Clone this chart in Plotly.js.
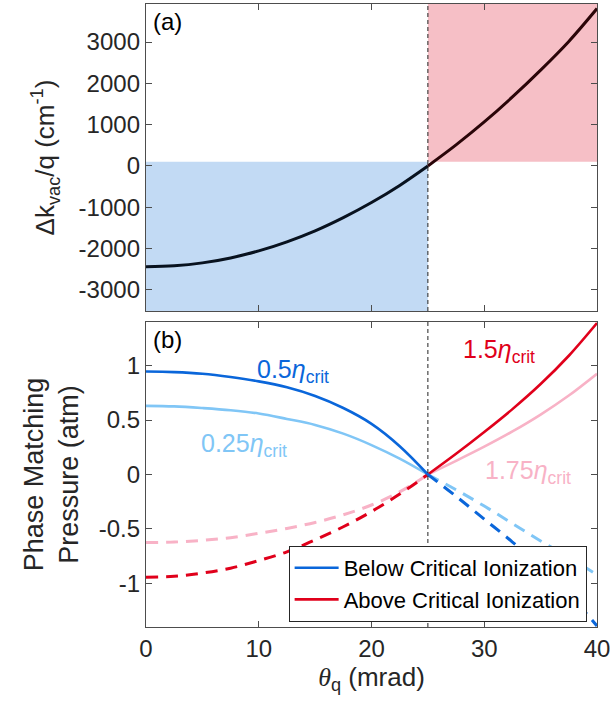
<!DOCTYPE html>
<html>
<head>
<meta charset="utf-8">
<script src="https://cdn.plot.ly/plotly-3.0.1.min.js"></script>
<style>html,body{margin:0;padding:0;background:#fff;}#chart{width:610px;height:709px;}</style>
</head>
<body>
<div id="chart"></div>
<script>
// ---- data ----
const theta = [0, 2.5, 5, 7.5, 10, 12.5, 15, 17.5, 20, 22.5, 25, 27.5, 30, 32.5, 35, 37.5, 40];
const dkVac = [-2440, -2415, -2345, -2225, -2055, -1835, -1570, -1250, -885, -470, 0, 510, 1065, 1670, 2320, 3015, 3810];
const p050 = [0.945, 0.94, 0.925, 0.895, 0.855, 0.80, 0.72, 0.61, 0.465, 0.26, 0, -0.20, -0.41, -0.62, -0.85, -1.10, -1.39];
const p025 = [0.63, 0.625, 0.61, 0.59, 0.56, 0.51, 0.455, 0.375, 0.27, 0.145, 0, -0.14, -0.29, -0.45, -0.61, -0.76, -0.92];
const p150 = [-0.943, -0.935, -0.905, -0.86, -0.79, -0.71, -0.60, -0.48, -0.34, -0.18, 0, 0.19, 0.39, 0.60, 0.83, 1.09, 1.39];
const p175 = [-0.625, -0.62, -0.605, -0.58, -0.54, -0.495, -0.44, -0.37, -0.28, -0.16, 0, 0.125, 0.255, 0.395, 0.55, 0.725, 0.925];
const critAngle = 25;
const shadeLevel = 100;
const xTicks = [0, 10, 20, 30, 40];
const yTicksA = [-3000, -2000, -1000, 0, 1000, 2000, 3000];
const yTicksB = [-1, -0.5, 0, 0.5, 1];
const legendNames = ['Below Critical Ionization', 'Above Critical Ionization'];

// ---- styling ----
const FONT = 'Liberation Sans, Arial, Helvetica, sans-serif';
const cBlue = '#0a66da', cLight = '#80c6f6', cRed = '#e0001b', cPink = '#f8b2c6';
const ci = theta.indexOf(critAngle);
const left = a => a.slice(0, ci + 1);
const right = a => a.slice(ci);
const dashPat = '12px,8px';

const traces = [];
// panel (a)
traces.push({x: left(theta), y: left(dkVac), xaxis: 'x', yaxis: 'y', mode: 'lines', line: {color: '#08121f', width: 3, shape: 'spline'}, showlegend: false, hoverinfo: 'skip'});
traces.push({x: right(theta), y: right(dkVac), xaxis: 'x', yaxis: 'y', mode: 'lines', line: {color: '#2a0508', width: 3, shape: 'spline'}, showlegend: false, hoverinfo: 'skip'});

// panel (b)
function addSeries(vals, color, belowCrit, legendName, rank) {
  const solidX = belowCrit ? left(theta) : right(theta);
  const solidY = belowCrit ? left(vals) : right(vals);
  const dashX = belowCrit ? right(theta) : left(theta);
  const dashY = belowCrit ? right(vals) : left(vals);
  traces.push({x: dashX, y: dashY, xaxis: 'x2', yaxis: 'y2', mode: 'lines', line: {color: color, width: 3, dash: dashPat, shape: 'spline'}, showlegend: false, hoverinfo: 'skip'});
  const t = {x: solidX, y: solidY, xaxis: 'x2', yaxis: 'y2', mode: 'lines', line: {color: color, width: 2.6, shape: 'spline'}, name: legendName || '', showlegend: !!legendName, hoverinfo: 'skip'};
  if (rank) t.legendrank = rank;
  traces.push(t);
}
addSeries(p175, cPink, false);
addSeries(p025, cLight, true);
addSeries(p150, cRed, false, legendNames[1], 2);
addSeries(p050, cBlue, true, legendNames[0], 1);

const axLine = '#4d4d4d';
const tickFont = {family: FONT, size: 24, color: '#262626'};
const baseX = {range: [0, 40], tickvals: xTicks, ticktext: xTicks.map(v => String(v)), ticks: 'inside', ticklen: 6, tickcolor: axLine, showline: true, linecolor: axLine, linewidth: 1.2, mirror: 'ticks', showgrid: false, zeroline: false, tickfont: tickFont, ticklabeloverflow: 'allow'};
const baseY = {ticks: 'inside', ticklen: 6, tickcolor: axLine, showline: true, linecolor: axLine, linewidth: 1.2, mirror: 'ticks', showgrid: false, zeroline: false, tickfont: tickFont, ticklabeloverflow: 'allow'};

const layout = {
  width: 610, height: 709,
  margin: {l: 146, r: 13, t: 4, b: 82},
  paper_bgcolor: '#fff', plot_bgcolor: 'rgba(0,0,0,0)',
  font: {family: FONT, color: '#262626'},
  showlegend: true,
  legend: {x: 0.977, y: 0.008, xanchor: 'right', yanchor: 'bottom', bgcolor: '#fff', bordercolor: '#262626', borderwidth: 1, font: {family: FONT, size: 22, color: '#000'}, tracegroupgap: 0, itemwidth: 44},
  xaxis: Object.assign({}, baseX, {anchor: 'y', showticklabels: false, domain: [0, 1]}),
  yaxis: Object.assign({}, baseY, {domain: [0.5072, 1], range: [-3510, 3920], tickvals: yTicksA, ticktext: yTicksA.map(v => String(v)), anchor: 'x',
    title: {text: 'Δk<sub>vac</sub>/q (cm<sup>-1</sup>)', font: {family: FONT, size: 26, color: '#262626'}, standoff: 16}}),
  xaxis2: Object.assign({}, baseX, {anchor: 'y2', domain: [0, 1],
    title: {text: '<span style="font-family:Liberation Serif, Times New Roman, serif"><i>θ</i></span><sub>q</sub> (mrad)', font: {family: FONT, size: 26, color: '#262626'}, standoff: 4}}),
  yaxis2: Object.assign({}, baseY, {domain: [0, 0.4896], range: [-1.4, 1.4], tickvals: yTicksB, ticktext: yTicksB.map(v => String(v)), anchor: 'x2',
    title: {text: 'Phase Matching<br>Pressure (atm)', font: {family: FONT, size: 27, color: '#262626'}, standoff: 12}}),
  shapes: [
    {type: 'rect', xref: 'x', yref: 'y', x0: 0, x1: critAngle, y0: -3510, y1: shadeLevel, fillcolor: '#c2daf4', line: {width: 0}, layer: 'below'},
    {type: 'rect', xref: 'x', yref: 'y', x0: critAngle, x1: 40, y0: shadeLevel, y1: 3920, fillcolor: '#f6bfc6', line: {width: 0}, layer: 'below'},
    {type: 'line', xref: 'x', yref: 'y domain', x0: critAngle, x1: critAngle, y0: 0, y1: 1, line: {color: '#222', width: 1, dash: '4px,3px'}},
    {type: 'line', xref: 'x2', yref: 'y2 domain', x0: critAngle, x1: critAngle, y0: 0, y1: 1, line: {color: '#222', width: 1, dash: '4px,3px'}}
  ],
  annotations: [
    {xref: 'x domain', yref: 'y domain', x: 0.012, y: 0.995, xanchor: 'left', yanchor: 'top', text: '(a)', showarrow: false, font: {family: FONT, size: 24, color: '#000'}},
    {xref: 'x2 domain', yref: 'y2 domain', x: 0.012, y: 0.995, xanchor: 'left', yanchor: 'top', text: '(b)', showarrow: false, font: {family: FONT, size: 24, color: '#000'}},
    {xref: 'x2', yref: 'y2', x: 9.7, y: 0.95, xanchor: 'left', yanchor: 'middle', text: '0.5<i>η</i><sub>crit</sub>', showarrow: false, font: {family: FONT, size: 25, color: cBlue}},
    {xref: 'x2', yref: 'y2', x: 4.7, y: 0.27, xanchor: 'left', yanchor: 'middle', text: '0.25<i>η</i><sub>crit</sub>', showarrow: false, font: {family: FONT, size: 25, color: cLight}},
    {xref: 'x2', yref: 'y2', x: 27.9, y: 1.13, xanchor: 'left', yanchor: 'middle', text: '1.5<i>η</i><sub>crit</sub>', showarrow: false, font: {family: FONT, size: 25, color: cRed}},
    {xref: 'x2', yref: 'y2', x: 29.9, y: 0.02, xanchor: 'left', yanchor: 'middle', text: '1.75<i>η</i><sub>crit</sub>', showarrow: false, font: {family: FONT, size: 25, color: cPink}}
  ]
};

Plotly.newPlot('chart', traces, layout, {displayModeBar: false, staticPlot: true});
</script>
</body>
</html>
